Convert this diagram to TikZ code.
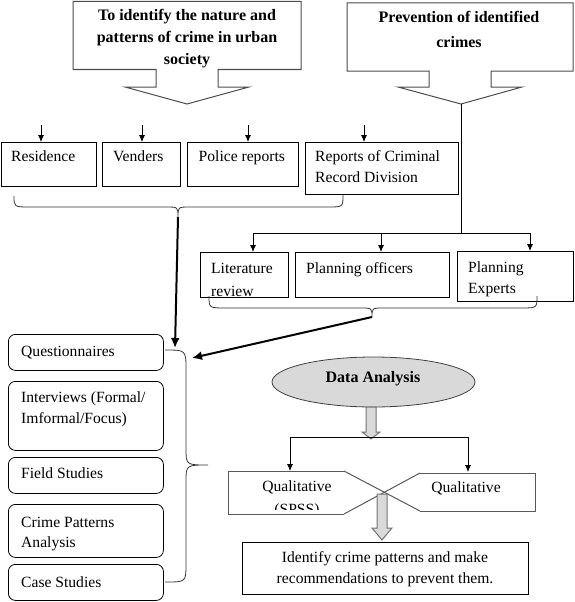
\documentclass[tikz,border=0pt]{standalone}
\usepackage{fontspec}
\setmainfont{Liberation Serif}
\usetikzlibrary{arrows.meta,shapes.geometric}
\newcommand{\fsz}{\fontsize{15.6}{21}\selectfont}
\newcommand{\fbz}{\fontsize{16}{22}\selectfont\bfseries}
\tikzset{
  box/.style={draw=black, line width=0.8pt, inner sep=0pt, anchor=north west},
  rbox/.style={box, rounded corners=7pt},
  txt/.style={anchor=base west, inner sep=0pt, font=\fsz},
  ctxt/.style={anchor=base, inner sep=0pt, font=\fsz},
  btxt/.style={anchor=base, inner sep=0pt, font=\fbz},
  thinarrow/.style={-{Latex[length=7pt,width=6pt]}, line width=0.8pt},
  thickarrow/.style={-{Latex[length=10pt,width=9pt]}, line width=2pt},
  bracepath/.style={line width=0.8pt, draw=black!80},
  blockarrow/.style={fill=black!15, draw=black!55, line width=1pt},
  callout/.style={draw=black!70, line width=1pt},
  hexline/.style={draw=black!65, line width=1pt},
}
\begin{document}
\begin{tikzpicture}[x=1pt,y=-1pt]
\useasboundingbox (0,0) rectangle (575,602);

% --- callout 1
\draw[callout] (73,1.5) -- (301,1.5) -- (301,69.5) -- (218,69.5) -- (218,87) -- (249,87)
  -- (187,104) -- (125,87) -- (156,87) -- (156,69.5) -- (73,69.5) -- cycle;
\node[btxt] (t1a) at (187,20.5) {To identify the nature and};
\node[btxt] (t1b) at (187,42.5) {patterns of crime in urban};
\node[btxt] (t1c) at (187,64.5) {society};

% --- callout 2
\draw[callout] (347,3) -- (573,3) -- (573,71) -- (491,71) -- (491,87) -- (522,87)
  -- (461,104) -- (398,87) -- (429,87) -- (429,71) -- (347,71) -- cycle;
\node[btxt] (t2a) at (459,22.5) {Prevention of identified};
\node[btxt] (t2b) at (459,47.5) {crimes};
\coordinate (c2tip) at (461,104);

% --- row 1 boxes
\node[box, minimum width=95.5, minimum height=44] (res) at (0.5,142) {};
\node[box, minimum width=78, minimum height=44] (ven) at (102,142) {};
\node[box, minimum width=111, minimum height=44] (pol) at (187,142) {};
\node[box, minimum width=153, minimum height=52] (rep) at (305,142) {};
\node[txt] (tres) at (11,161) {Residence};
\node[txt] (tven) at (113,161) {Venders};
\node[txt] (tpol) at (198.5,161) {Police reports};
\node[txt] (trep1) at (315,161) {Reports of Criminal};
\node[txt] (trep2) at (315,182) {Record Division};

\coordinate (a1) at (41,125);
\coordinate (a2) at (142,125);
\coordinate (a3) at (248,125);
\coordinate (a4) at (364,125);
\draw[thinarrow] (a1) -- (a1 |- res.north);
\draw[thinarrow] (a2) -- (a2 |- ven.north);
\draw[thinarrow] (a3) -- (a3 |- pol.north);
\draw[thinarrow] (a4) -- (a4 |- rep.north);

% --- brace 1
\coordinate (br1) at (178,217);
\draw[bracepath] (14,196) .. controls (14,207) .. (30,207) -- (166,207)
  .. controls (178,207) .. (br1) .. controls (178,207) .. (190,207) -- (328,207)
  .. controls (343,207) .. (343,195);

% --- row 2 boxes
\node[box, minimum width=88, minimum height=45] (lit) at (200,252) {};
\node[box, minimum width=154, minimum height=45] (plo) at (295,252) {};
\node[box, minimum width=116, minimum height=50] (ple) at (457,251) {};
\node[txt] (tlit1) at (211,273) {Literature};
\begin{scope}
  \clip (200,280) rectangle (288,296.5);
  \node[txt] (tlit2) at (211,296) {review};
\end{scope}
\node[txt] (tplo) at (306,273) {Planning officers};
\node[txt] (tple1) at (468,272) {Planning};
\node[txt] (tple2) at (468,293) {Experts};

\coordinate (j1) at (461,233);
\coordinate (h1) at (253,233);
\coordinate (h2) at (381,233);
\coordinate (h3) at (530,233);
\draw[line width=0.8pt] (c2tip) -- (j1);
\draw[line width=0.8pt] (h1) -- (h3);
\draw[thinarrow] (h1) -- (h1 |- lit.north);
\draw[thinarrow] (h2) -- (h2 |- plo.north);
\draw[thinarrow] (h3) -- (h3 |- ple.north);

% --- brace 2
\coordinate (br2) at (372,317);
\draw[bracepath] (209,296) .. controls (209,308) .. (226,308) -- (360,308)
  .. controls (372,308) .. (br2) .. controls (372,308) .. (384,308) -- (521,308)
  .. controls (537,308) .. (537,296);

% --- left rounded boxes
\node[rbox, minimum width=155, minimum height=36] (q) at (8,334) {};
\node[rbox, minimum width=155, minimum height=69] (iv) at (8,381) {};
\node[rbox, minimum width=155, minimum height=36] (fs) at (8,457) {};
\node[rbox, minimum width=155, minimum height=53] (cp) at (8,504) {};
\node[rbox, minimum width=155, minimum height=36] (cs) at (8,564) {};
\node[txt] (tq) at (21,356) {Questionnaires};
\node[txt] (tiv1) at (21,402) {Interviews (Formal/};
\node[txt] (tiv2) at (21,423) {Imformal/Focus)};
\node[txt] (tfs) at (21,478) {Field Studies};
\node[txt] (tcp1) at (21,527) {Crime Patterns};
\node[txt] (tcp2) at (21,547) {Analysis};
\node[txt] (tcs) at (21,587) {Case Studies};

% --- brace 3 (right brace)
\coordinate (br3) at (208,465);
\draw[bracepath] (165,350) .. controls (186,350) .. (186,370) -- (186,448)
  .. controls (186,465) .. (br3) .. controls (186,465) .. (186,482) -- (186,564)
  .. controls (186,582) .. (165,582);

% --- thick arrows
\coordinate (e1) at (175,348);
\coordinate (e2) at (192,358);
\draw[thickarrow] (br1) -- (e1);
\draw[thickarrow] (br2) -- (e2);

% --- data analysis
\node[ellipse, draw=black!75, line width=0.8pt, fill=black!15, minimum width=203, minimum height=50, inner sep=0pt] (da) at (373.5,382) {};
\node[btxt] (tda) at (373,382.5) {Data Analysis};

\draw[blockarrow] (366,407) -- (376,407) -- (376,432) -- (380,432) -- (371,439)
  -- (362,432) -- (366,432) -- cycle;

\coordinate (k1) at (290,437);
\coordinate (k2) at (468,437);
\draw[line width=0.8pt] (k1) -- (k2);
\coordinate (q1top) at (290,471);
\coordinate (q2top) at (468,472);
\draw[thinarrow] (k1) -- (q1top);
\draw[thinarrow] (k2) -- (q2top);

% --- qualitative shapes
\draw[hexline] (344,471) -- (228,471) -- (228,514) -- (344,514);
\draw[hexline] (420,473) -- (535,473) -- (535,511) -- (420,511);
\draw[hexline] (344,471) -- (420,511);
\draw[hexline] (344,514) -- (420,473);
\node[ctxt] (tql1) at (297,491) {Qualitative};
\begin{scope}
  \clip (228,495) rectangle (344,509);
  \node[ctxt] (tql2) at (297,514) {(SPSS)};
\end{scope}
\node[ctxt] (tql3) at (466,492) {Qualitative};

\draw[blockarrow] (377,494) -- (387,494) -- (387,528) -- (392,528) -- (382,540)
  -- (372,528) -- (377,528) -- cycle;

% --- final box
\node[box, minimum width=286, minimum height=52] (fin) at (242,542) {};
\node[ctxt] (tfin1) at (385,562) {Identify crime patterns and make};
\node[ctxt] (tfin2) at (385,583) {recommendations to prevent them.};
\end{tikzpicture}
\end{document}
